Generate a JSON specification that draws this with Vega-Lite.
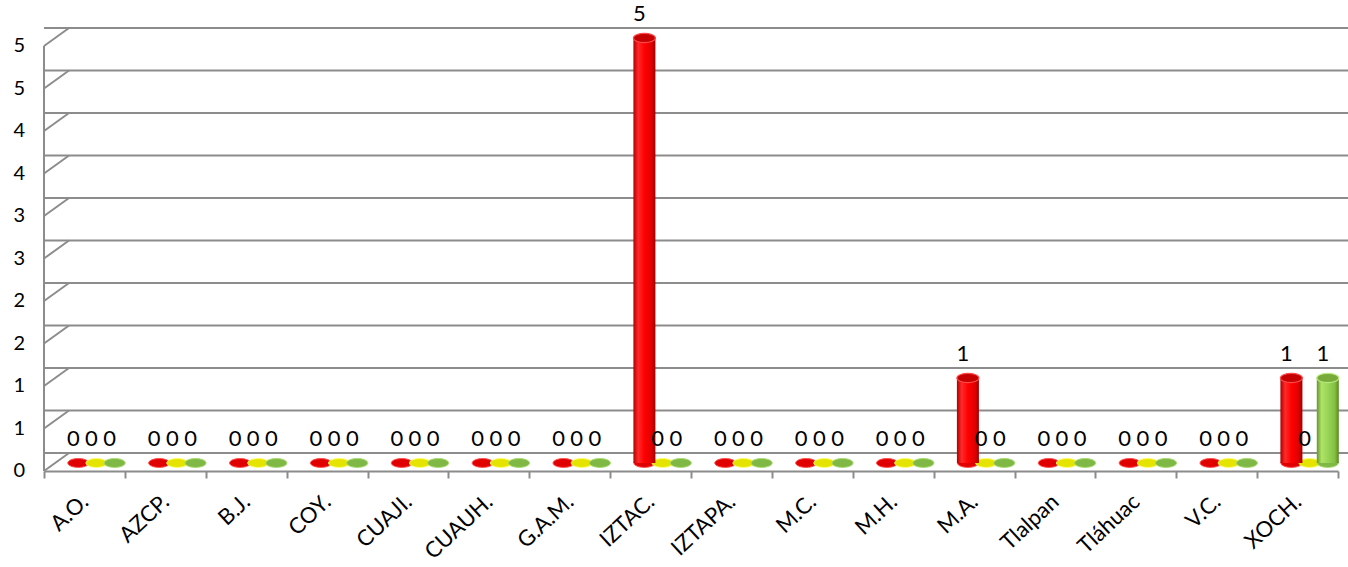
{
  "$schema": "https://vega.github.io/schema/vega-lite/v6.json",
  "width": 1294,
  "height": 425,
  "autosize": "none",
  "padding": {"left": 44, "top": 38, "right": 10, "bottom": 104},
  "background": "#ffffff",
  "config": {"view": {"stroke": null}, "font": "Lato"},
  "datasets": {
    "valores": [
      {"c": "A.O.", "s": "Rojo", "v": 0}, {"c": "A.O.", "s": "Amarillo", "v": 0}, {"c": "A.O.", "s": "Verde", "v": 0},
      {"c": "AZCP.", "s": "Rojo", "v": 0}, {"c": "AZCP.", "s": "Amarillo", "v": 0}, {"c": "AZCP.", "s": "Verde", "v": 0},
      {"c": "B.J.", "s": "Rojo", "v": 0}, {"c": "B.J.", "s": "Amarillo", "v": 0}, {"c": "B.J.", "s": "Verde", "v": 0},
      {"c": "COY.", "s": "Rojo", "v": 0}, {"c": "COY.", "s": "Amarillo", "v": 0}, {"c": "COY.", "s": "Verde", "v": 0},
      {"c": "CUAJI.", "s": "Rojo", "v": 0}, {"c": "CUAJI.", "s": "Amarillo", "v": 0}, {"c": "CUAJI.", "s": "Verde", "v": 0},
      {"c": "CUAUH.", "s": "Rojo", "v": 0}, {"c": "CUAUH.", "s": "Amarillo", "v": 0}, {"c": "CUAUH.", "s": "Verde", "v": 0},
      {"c": "G.A.M.", "s": "Rojo", "v": 0}, {"c": "G.A.M.", "s": "Amarillo", "v": 0}, {"c": "G.A.M.", "s": "Verde", "v": 0},
      {"c": "IZTAC.", "s": "Rojo", "v": 5}, {"c": "IZTAC.", "s": "Amarillo", "v": 0}, {"c": "IZTAC.", "s": "Verde", "v": 0},
      {"c": "IZTAPA.", "s": "Rojo", "v": 0}, {"c": "IZTAPA.", "s": "Amarillo", "v": 0}, {"c": "IZTAPA.", "s": "Verde", "v": 0},
      {"c": "M.C.", "s": "Rojo", "v": 0}, {"c": "M.C.", "s": "Amarillo", "v": 0}, {"c": "M.C.", "s": "Verde", "v": 0},
      {"c": "M.H.", "s": "Rojo", "v": 0}, {"c": "M.H.", "s": "Amarillo", "v": 0}, {"c": "M.H.", "s": "Verde", "v": 0},
      {"c": "M.A.", "s": "Rojo", "v": 1}, {"c": "M.A.", "s": "Amarillo", "v": 0}, {"c": "M.A.", "s": "Verde", "v": 0},
      {"c": "Tlalpan", "s": "Rojo", "v": 0}, {"c": "Tlalpan", "s": "Amarillo", "v": 0}, {"c": "Tlalpan", "s": "Verde", "v": 0},
      {"c": "Tláhuac", "s": "Rojo", "v": 0}, {"c": "Tláhuac", "s": "Amarillo", "v": 0}, {"c": "Tláhuac", "s": "Verde", "v": 0},
      {"c": "V.C.", "s": "Rojo", "v": 0}, {"c": "V.C.", "s": "Amarillo", "v": 0}, {"c": "V.C.", "s": "Verde", "v": 0},
      {"c": "XOCH.", "s": "Rojo", "v": 1}, {"c": "XOCH.", "s": "Amarillo", "v": 0}, {"c": "XOCH.", "s": "Verde", "v": 1}
    ],
    "marcas": [
      {"v": 0}, {"v": 0.5}, {"v": 1}, {"v": 1.5}, {"v": 2}, {"v": 2.5},
      {"v": 3}, {"v": 3.5}, {"v": 4}, {"v": 4.5}, {"v": 5}
    ]
  },
  "resolve": {"scale": {"x": "independent"}},
  "layer": [
    {
      "data": {"name": "marcas"},
      "mark": {"type": "rule", "color": "#8c8c8c", "strokeWidth": 2, "yOffset": -10, "xOffset": 25, "x2Offset": 25},
      "encoding": {
        "y": {"field": "v", "type": "quantitative", "title": null, "scale": {"domain": [0, 5], "nice": false, "zero": true},
          "axis": {"title": null, "values": [0, 0.5, 1, 1.5, 2, 2.5, 3, 3.5, 4, 4.5, 5], "format": ".0f", "offset": 8, "translate": 8, "grid": false, "ticks": false, "tickSize": 0, "domain": true, "domainColor": "#8c8c8c", "domainWidth": 2, "labelFontSize": 20, "labelPadding": 19, "labelColor": "#000000"}}
      }
    },
    {
      "data": {"name": "marcas"},
      "mark": {"type": "rule", "color": "#8c8c8c", "strokeWidth": 2, "yOffset": 8, "y2Offset": -10},
      "encoding": {
        "x": {"datum": 0, "type": "quantitative", "scale": {"domain": [0, 1], "range": [0, 25]}, "axis": null},
        "x2": {"datum": 1},
        "y": {"field": "v", "type": "quantitative", "title": null},
        "y2": {"field": "v"}
      }
    },
    {
      "data": {"name": "valores"},
      "resolve": {"scale": {"fill": "independent", "stroke": "independent"}},
      "layer": [
        {
          "mark": {"type": "point", "shape": "M-1,0A1,0.42,0,1,0,1,0A1,0.42,0,1,0,-1,0Z", "size": 441, "filled": true, "opacity": 1, "strokeWidth": 1},
          "encoding": {
            "x": {"field": "c", "type": "nominal", "scale": {"domain": ["A.O.", "AZCP.", "B.J.", "COY.", "CUAJI.", "CUAUH.", "G.A.M.", "IZTAC.", "IZTAPA.", "M.C.", "M.H.", "M.A.", "Tlalpan", "Tláhuac", "V.C.", "XOCH."], "paddingInner": 0, "paddingOuter": 0},
              "axis": {"title": null, "offset": 8, "domainColor": "#8c8c8c", "domainWidth": 2, "ticks": true, "tickSize": 7, "tickWidth": 2, "tickColor": "#8c8c8c", "tickBand": "extent", "labelAngle": -43, "labelAlign": "right", "labelBaseline": "middle", "labelFontSize": 22, "labelPadding": 20, "labelColor": "#000000", "grid": false}},
            "xOffset": {"field": "s", "type": "nominal", "scale": {"domain": ["Rojo", "Amarillo", "Verde"], "paddingInner": 0, "paddingOuter": 0.7225, "align": 0.958}},
            "y": {"datum": 0, "type": "quantitative", "title": null},
            "fill": {"field": "s", "type": "nominal", "scale": {"domain": ["Rojo", "Amarillo", "Verde"], "range": ["#e00000", "#e4e400", "#7fb844"]}, "legend": null},
            "stroke": {"field": "s", "type": "nominal", "scale": {"domain": ["Rojo", "Amarillo", "Verde"], "range": ["#ff5050", "#ffff70", "#a8dc70"]}, "legend": null}
          }
        },
        {
          "transform": [{"filter": "datum.s === 'Rojo' && datum.v > 0"}],
          "mark": {"type": "bar", "width": 22, "color": {"gradient": "linear", "x1": 0, "y1": 0, "x2": 1, "y2": 0, "stops": [{"offset": 0, "color": "#b00000"}, {"offset": 0.22, "color": "#ff2a2a"}, {"offset": 0.5, "color": "#ff0000"}, {"offset": 0.82, "color": "#e00000"}, {"offset": 1, "color": "#a00000"}]}},
          "encoding": {
            "x": {"field": "c", "type": "nominal"},
            "xOffset": {"field": "s", "type": "nominal"},
            "y": {"field": "v", "type": "quantitative", "title": null}
          }
        },
        {
          "transform": [{"filter": "datum.s === 'Amarillo' && datum.v > 0"}],
          "mark": {"type": "bar", "width": 22, "color": {"gradient": "linear", "x1": 0, "y1": 0, "x2": 1, "y2": 0, "stops": [{"offset": 0, "color": "#b8b800"}, {"offset": 0.22, "color": "#ffff50"}, {"offset": 0.5, "color": "#ffff00"}, {"offset": 0.82, "color": "#e0e000"}, {"offset": 1, "color": "#a8a800"}]}},
          "encoding": {
            "x": {"field": "c", "type": "nominal"},
            "xOffset": {"field": "s", "type": "nominal"},
            "y": {"field": "v", "type": "quantitative", "title": null}
          }
        },
        {
          "transform": [{"filter": "datum.s === 'Verde' && datum.v > 0"}],
          "mark": {"type": "bar", "width": 22, "color": {"gradient": "linear", "x1": 0, "y1": 0, "x2": 1, "y2": 0, "stops": [{"offset": 0, "color": "#66952c"}, {"offset": 0.22, "color": "#aee466"}, {"offset": 0.5, "color": "#98d456"}, {"offset": 0.82, "color": "#84c040"}, {"offset": 1, "color": "#5a8626"}]}},
          "encoding": {
            "x": {"field": "c", "type": "nominal"},
            "xOffset": {"field": "s", "type": "nominal"},
            "y": {"field": "v", "type": "quantitative", "title": null}
          }
        },
        {
          "transform": [{"filter": "datum.v > 0"}],
          "mark": {"type": "point", "shape": "M-1,0A1,0.42,0,1,0,1,0A1,0.42,0,1,0,-1,0Z", "size": 484, "filled": true, "opacity": 1, "strokeWidth": 1.2},
          "encoding": {
            "x": {"field": "c", "type": "nominal"},
            "xOffset": {"field": "s", "type": "nominal"},
            "y": {"field": "v", "type": "quantitative", "title": null},
            "fill": {"field": "s", "type": "nominal", "scale": {"domain": ["Rojo", "Amarillo", "Verde"], "range": ["#c40000", "#cccc00", "#78aa3a"]}, "legend": null},
            "stroke": {"field": "s", "type": "nominal", "scale": {"domain": ["Rojo", "Amarillo", "Verde"], "range": ["#ff4a4a", "#ffff80", "#b8ea80"]}, "legend": null}
          }
        },
        {
          "mark": {"type": "text", "fontSize": 22, "dy": -24, "dx": -5, "baseline": "middle", "align": "center", "color": "#000000"},
          "encoding": {
            "x": {"field": "c", "type": "nominal"},
            "xOffset": {"field": "s", "type": "nominal"},
            "y": {"field": "v", "type": "quantitative", "title": null},
            "text": {"field": "v", "type": "quantitative", "format": "d"}
          }
        }
      ]
    }
  ]
}
